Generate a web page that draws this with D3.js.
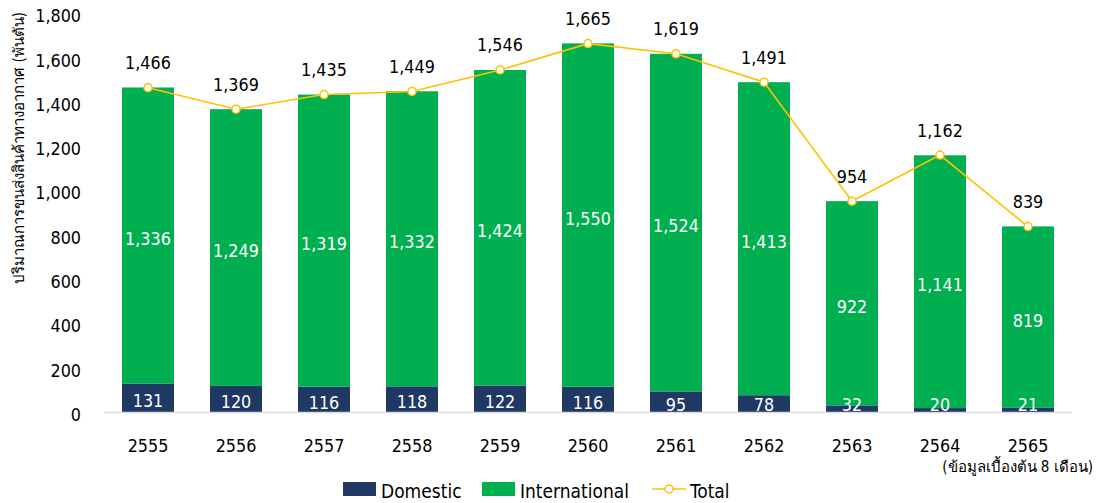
<!DOCTYPE html>
<html>
<head>
<meta charset="utf-8">
<script src="https://cdn.jsdelivr.net/npm/d3@7/dist/d3.min.js"></script>
<style>
  html, body { margin: 0; padding: 0; background: #fff; }
  svg { display: block; font-family: "DejaVu Sans Condensed", "DejaVu Sans", "Noto Sans", sans-serif; }
</style>
</head>
<body>
<svg id="chart" width="1101" height="503"></svg>
<script>
// Air freight volume (thousand tonnes) by Thai year
const years = ["2555","2556","2557","2558","2559","2560","2561","2562","2563","2564","2565"];
const domestic = [131,120,116,118,122,116,95,78,32,20,21];
const international = [1336,1249,1319,1332,1424,1550,1524,1413,922,1141,819];
const total = [1466,1369,1435,1449,1546,1665,1619,1491,954,1162,839];
const yTicks = [0,200,400,600,800,1000,1200,1400,1600,1800];
const seriesNames = ["Domestic","International","Total"];
const yTitle = "ปริมาณการขนส่งสินค้าทางอากาศ (พันตัน)";
const note = "(ข้อมูลเบื้องต้น 8 เดือน)";

const colors = { Domestic: "#203864", International: "#00B050", Total: "#FFC000" };
const fmt = d3.format(",");
const FS = 17.8;

const svg = d3.select("#chart");

const x = d3.scaleBand().domain(years).range([104, 1072])
  .paddingInner(0.409).paddingOuter(0.2045);
const y = d3.scaleLinear().domain([0, 1800]).range([412.5, 13.7]);

// y tick labels (no axis line, no gridlines)
svg.append("g").selectAll("text").data(yTicks).join("text")
  .attr("x", 81).attr("y", d => y(d) + 2)
  .attr("text-anchor", "end").attr("dominant-baseline", "central")
  .attr("font-size", FS).attr("fill", "#000")
  .text(d => fmt(d));

// y axis title
svg.append("text")
  .attr("transform", "translate(19,148) rotate(-90)")
  .attr("text-anchor", "middle").attr("dominant-baseline", "central")
  .attr("font-size", 15).attr("fill", "#000")
  .text(yTitle);

// stacked bars
const rows = years.map((yr, i) => ({ yr, dom: domestic[i], intl: international[i], tot: total[i] }));
const stack = d3.stack().keys(["dom", "intl"])(rows);
const stackColors = [colors.Domestic, colors.International];

stack.forEach((layer, li) => {
  svg.append("g").selectAll("rect").data(layer).join("rect")
    .attr("x", d => x(d.data.yr))
    .attr("width", x.bandwidth())
    .attr("y", d => y(d[1]))
    .attr("height", d => y(d[0]) - y(d[1]))
    .attr("fill", stackColors[li]);
});

// baseline
svg.append("line")
  .attr("x1", 104).attr("x2", 1072)
  .attr("y1", y(0)).attr("y2", y(0))
  .attr("stroke", "#d9d9d9").attr("stroke-width", 1.5);

// inner value labels
svg.append("g").selectAll("text").data(stack[1]).join("text")
  .attr("x", d => x(d.data.yr) + x.bandwidth() / 2)
  .attr("y", d => (y(d[0]) + y(d[1])) / 2 + 3)
  .attr("text-anchor", "middle").attr("dominant-baseline", "central")
  .attr("font-size", FS).attr("fill", "#fff")
  .text(d => fmt(d.data.intl));

svg.append("g").selectAll("text").data(stack[0]).join("text")
  .attr("x", d => x(d.data.yr) + x.bandwidth() / 2)
  .attr("y", d => Math.min((y(d[0]) + y(d[1])) / 2 + 2.5, 404.5))
  .attr("text-anchor", "middle").attr("dominant-baseline", "central")
  .attr("font-size", FS).attr("fill", "#fff")
  .text(d => fmt(d.data.dom));

// total line
const cx = yr => x(yr) + x.bandwidth() / 2;
const line = d3.line().x(d => cx(d.yr)).y(d => y(d.tot));
svg.append("path").datum(rows)
  .attr("d", line).attr("fill", "none")
  .attr("stroke", colors.Total).attr("stroke-width", 1.6);

svg.append("g").selectAll("circle").data(rows).join("circle")
  .attr("cx", d => cx(d.yr)).attr("cy", d => y(d.tot)).attr("r", 4)
  .attr("fill", "#fff").attr("stroke", colors.Total).attr("stroke-width", 1.5);

svg.append("g").selectAll("text").data(rows).join("text")
  .attr("x", d => cx(d.yr)).attr("y", d => y(d.tot) - 25)
  .attr("text-anchor", "middle").attr("dominant-baseline", "central")
  .attr("font-size", FS).attr("fill", "#000")
  .text(d => fmt(d.tot));

// x category labels
svg.append("g").selectAll("text").data(years).join("text")
  .attr("x", d => cx(d)).attr("y", 445)
  .attr("text-anchor", "middle").attr("dominant-baseline", "central")
  .attr("font-size", FS).attr("fill", "#000")
  .text(d => d);

// note
svg.append("text")
  .attr("x", 1093).attr("y", 467)
  .attr("text-anchor", "end").attr("dominant-baseline", "central")
  .attr("font-size", 15).attr("fill", "#000")
  .text(note);

// legend
const lg = svg.append("g");
const legendItems = [
  { name: seriesNames[0], x: 343, type: "rect" },
  { name: seriesNames[1], x: 482, type: "rect" },
  { name: seriesNames[2], x: 652, type: "line" }
];
legendItems.forEach(it => {
  if (it.type === "rect") {
    lg.append("rect").attr("x", it.x).attr("y", 482).attr("width", 33).attr("height", 14)
      .attr("fill", colors[it.name]);
  } else {
    lg.append("line").attr("x1", it.x).attr("x2", it.x + 34).attr("y1", 489).attr("y2", 489)
      .attr("stroke", colors.Total).attr("stroke-width", 1.6);
    lg.append("circle").attr("cx", it.x + 17).attr("cy", 489).attr("r", 4)
      .attr("fill", "#fff").attr("stroke", colors.Total).attr("stroke-width", 1.5);
  }
  lg.append("text").attr("x", it.x + 38).attr("y", 491)
    .attr("dominant-baseline", "central").attr("font-size", 19).attr("fill", "#000")
    .text(it.name);
});
</script>
</body>
</html>
